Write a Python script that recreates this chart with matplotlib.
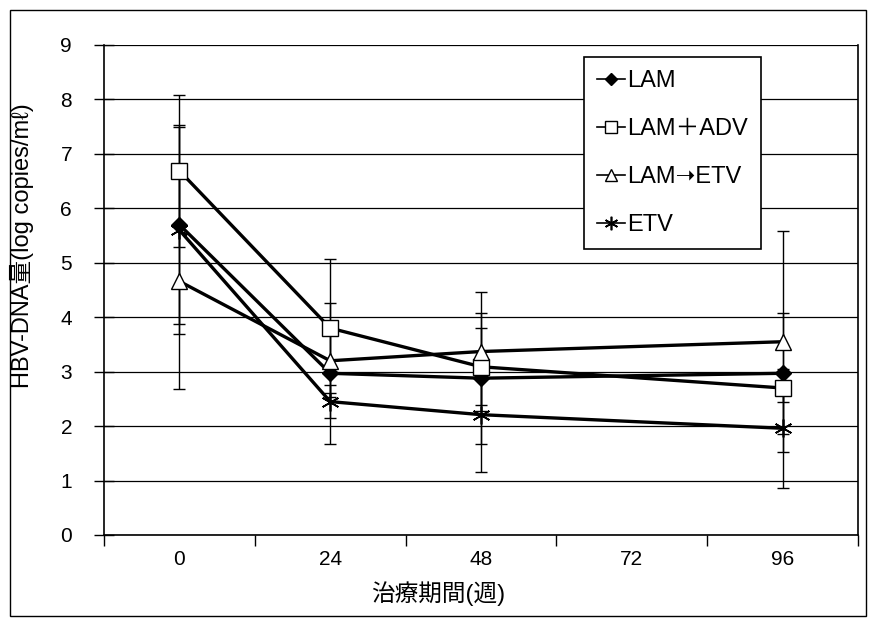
import numpy as np
import matplotlib
matplotlib.use("Agg")
import matplotlib.pyplot as plt
from matplotlib.patches import Rectangle

plt.rcParams['font.family'] = ['Liberation Sans', 'Noto Sans CJK JP', 'DejaVu Sans']

# data
weeks = ['0', '24', '48', '72', '96']
pos_lam = [0, 1, 2, 4]          # category positions that have data (72 has none)

lam = [5.70, 2.97, 2.88, 2.97]
lam_err = [1.83, 1.30, 1.20, 1.11]
lam_adv = [6.69, 3.80, 3.09, 2.70]
lam_adv_err = [1.40, 1.27, 0.71, 0.26]
lam_etv = [4.66, 3.20, 3.37, 3.55]
lam_etv_err = [1.98, 0.60, 1.10, 2.03]
etv = [5.60, 2.45, 2.21, 1.96]
etv_err = [1.90, 0.30, 1.05, 1.09]

names = ['LAM', 'LAM＋ADV', 'LAM➝ETV', 'ETV']

fig = plt.figure(figsize=(8.74, 6.2), dpi=100)
ax = fig.add_axes([104/874, 85/620, 754/874, 490/620])

# frame round the whole chart
fig.patches.append(Rectangle((10/874, 4/620), 856/874, 606/620, transform=fig.transFigure,
                             fill=False, edgecolor='black', linewidth=1.0))

series = [
    (lam, lam_err, dict(marker='D', markersize=8, markerfacecolor='black')),
    (lam_adv, lam_adv_err, dict(marker='s', markersize=11, markerfacecolor='white')),
    (lam_etv, lam_etv_err, dict(marker='^', markersize=11, markerfacecolor='white')),
    (etv, etv_err, dict(marker=(6, 2, 0), markersize=13, markeredgewidth=1.2)),
]

for (vals, errs, st), nm in zip(series, names):
    ax.errorbar(pos_lam, vals, yerr=errs, fmt='none', ecolor='black',
                elinewidth=1.0, capsize=4, capthick=1.0, zorder=2)
    ax.plot(pos_lam, vals, color='black', linewidth=2.4, markeredgecolor='black',
            label=nm, zorder=3, **st)

ax.set_ylim(0, 9)
ax.set_yticks(range(0, 10))
ax.yaxis.grid(True, color='black', linewidth=0.9)
ax.set_axisbelow(True)

ax.set_xlim(-0.5, 4.5)
ax.set_xticks(np.arange(-0.5, 5.0, 1.0))
ax.set_xticklabels([])
ax.set_xticks(range(5), minor=True)
ax.set_xticklabels(weeks, minor=True)
ax.tick_params(axis='x', which='major', direction='out', length=8, width=1)
ax.tick_params(axis='x', which='minor', length=0, pad=11, labelsize=15)
ax.tick_params(axis='y', direction='inout', length=14, width=1, labelsize=15, pad=16)

for s in ['left', 'bottom', 'right']:
    ax.spines[s].set_linewidth(1.2)
ax.spines['top'].set_visible(False)

ax.set_ylabel('HBV-DNA量(log copies/mℓ)', fontsize=17)
ax.yaxis.set_label_coords(-0.093, 0.59)
ax.set_xlabel('治療期間(週)', fontsize=17)
ax.xaxis.set_label_coords(0.443, -0.094)

leg = ax.legend(loc='upper left', bbox_to_anchor=(0.636, 0.975), fontsize=17,
                frameon=True, fancybox=False, edgecolor='black', framealpha=1,
                handlelength=1.2, handletextpad=0.1, borderpad=0.55,
                labelspacing=1.1, borderaxespad=0)
leg.get_frame().set_linewidth(1.2)
for h in leg.legend_handles:
    h.set_linewidth(1.2)
    h.set_markersize(h.get_markersize() * 0.75)

fig.savefig('out.png', dpi=100)
